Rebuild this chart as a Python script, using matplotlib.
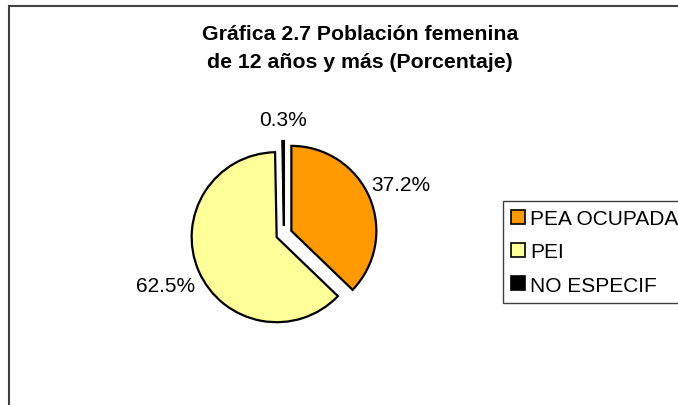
import matplotlib
matplotlib.use("Agg")
import matplotlib.pyplot as plt
from matplotlib.patches import Patch, Rectangle
import numpy as np

categories = ["PEA OCUPADA", "PEI", "NO ESPECIF"]
values = [37.2, 62.5, 0.3]
colors = ["#FF9900", "#FFFF99", "#000000"]
title_lines = ["Gráfica 2.7 Población femenina", "de 12 años y más (Porcentaje)"]

plt.rcParams['font.family'] = ['Liberation Sans', 'DejaVu Sans']

W, H = 678, 406
fig = plt.figure(figsize=(W / 100, H / 100), dpi=100)
ax = fig.add_axes([0, 0, 1, 1])

cx, cy, R = 284, H - 235, 85
explode = [8, 8, 8]
wedges, _ = ax.pie(values, colors=colors, startangle=90, counterclock=False,
                   radius=R, center=(cx, cy), explode=explode,
                   wedgeprops=dict(edgecolor='black', linewidth=1.6))
ax.set_xlim(0, W)
ax.set_ylim(0, H)
ax.set_aspect('equal')
ax.axis('off')

# percentage labels
label_dist = [1.40, 1.42, 1.25]
for w, v, d in zip(wedges, values, label_dist):
    tm = np.deg2rad((w.theta1 + w.theta2) / 2)
    x0, y0 = w.center
    ax.text(x0 + d * R * np.cos(tm), y0 + d * R * np.sin(tm), f"{v:.1f}%",
            ha='center', va='center', fontsize=15)

# title
ax.text(360, H - 34, title_lines[0], ha='center', va='center',
        fontsize=15.3, fontweight='bold')
ax.text(360, H - 62, title_lines[1], ha='center', va='center',
        fontsize=15.3, fontweight='bold')

# outer frame
ax.add_patch(Rectangle((9, -20), 720, H - 7 + 20, fill=False,
                       edgecolor='#404040', linewidth=1.5, clip_on=False))

handles = [Patch(facecolor=c, edgecolor='black', linewidth=1.2) for c in colors]
fig.legend(handles, categories, loc='upper left',
           bbox_to_anchor=(503 / W, 1 - 202 / H), borderaxespad=0,
           frameon=True, fancybox=False, edgecolor='#404040', framealpha=1,
           fontsize=15, handlelength=0.65, handleheight=0.65,
           handletextpad=0.25, labelspacing=0.68, borderpad=0.4)

fig.savefig("out.png", dpi=100)
